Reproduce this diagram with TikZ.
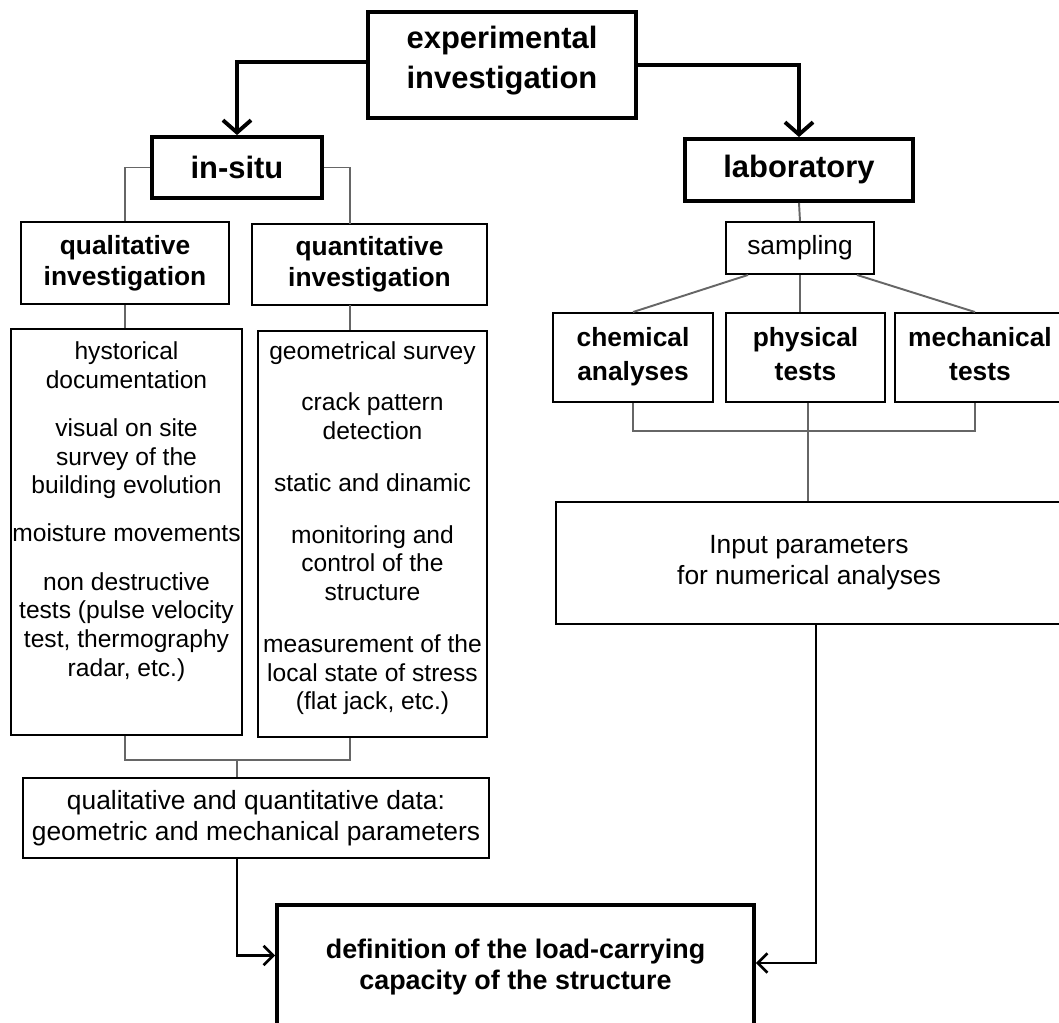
\documentclass[tikz,border=0pt]{standalone}
\usepackage{fontspec}
\setmainfont{Liberation Sans}
\usetikzlibrary{arrows.meta,positioning}

\begin{document}
\begin{tikzpicture}[x=0.02cm, y=-0.02cm,
  headbox/.style={draw, line width=2.2pt, align=center, inner sep=0pt,
    font=\bfseries\fontsize{17.6}{22.7}\selectfont},
  subbox/.style={draw, line width=1.1pt, align=center, inner sep=0pt,
    font=\bfseries\fontsize{15}{17.6}\selectfont},
  testbox/.style={subbox, text depth=4pt, font=\bfseries\fontsize{15}{19.8}\selectfont},
  plainbox/.style={draw, line width=1.1pt, align=center, inner sep=0pt,
    font=\fontsize{15}{17.6}\selectfont},
  listbox/.style={draw, line width=1.1pt, inner sep=0pt},
  listtext/.style={align=center, inner sep=0pt, font=\fontsize{14}{16.4}\selectfont},
  link/.style={line width=1.1pt, black!60},
  bigarrow/.style={line width=2.2pt, -{Straight Barb[length=7pt, width=16pt]}},
  smallarrow/.style={line width=1.5pt, -{Straight Barb[length=5.5pt, width=11pt]}}
]
  \useasboundingbox (0,0) rectangle (1059,1023);
  \clip (0,0) rectangle (1059,1023);

  % top level
  \node[headbox, minimum width=5.36cm, minimum height=2.12cm, text depth=9pt] (exp) at (502,65) {experimental\\investigation};
  \node[headbox, minimum width=3.4cm, minimum height=1.22cm] (insitu) at (237,167.5) {in-situ};
  \node[headbox, minimum width=4.56cm, minimum height=1.24cm] (lab) at (799,170) {laboratory};

  \draw[bigarrow] ([yshift=0.06cm]exp.west) -| (insitu.north);
  \draw[bigarrow] (exp.east) -| (lab.north);

  % in-situ branch
  \node[subbox, minimum width=4.16cm, minimum height=1.64cm] (qual) at (125,263) {qualitative\\investigation};
  \node[subbox, minimum width=4.7cm, minimum height=1.62cm] (quant) at (369.5,264.5) {quantitative\\investigation};
  \node[listbox, minimum width=4.62cm, minimum height=8.12cm] (qualbox) at (126.5,532) {};
  \node[listbox, minimum width=4.58cm, minimum height=8.12cm] (quantbox) at (372.5,534) {};

  \node[listtext, below=0.26cm of qualbox.north] (qualtext) {hystorical\\documentation\\[11pt]visual on site\\survey of the\\building evolution\\[11pt]moisture movements\\[11pt]non destructive\\tests (pulse velocity\\test, thermography\\radar, etc.)};
  \node[listtext, below=0.22cm of quantbox.north] (quanttext) {geometrical survey\\[13pt]crack pattern\\detection\\[13pt]static and dinamic\\[13pt]monitoring and\\control of the\\structure\\[13pt]measurement of the\\local state of stress\\(flat jack, etc.)};

  \coordinate (qtop) at (350,224);
  \coordinate (qbot) at (350,305);
  \coordinate (join) at (237,760);
  \draw[link] (insitu.west) -| (qual.north);
  \draw[link] (insitu.east) -| (qtop);
  \draw[link] (qual.south) -- (qual.south |- qualbox.north);
  \draw[link] (qbot) -- (qbot |- quantbox.north);
  \draw[link] (qual.south |- qualbox.south) |- (qbot |- join) -- (qbot |- quantbox.south);

  \node[plainbox, minimum width=9.32cm, minimum height=1.6cm] (data) at (256,818) {qualitative and quantitative data:\\geometric and mechanical parameters};
  \draw[link] (join) -- (join |- data.north);

  % final box
  \node[headbox, font=\bfseries\fontsize{15.3}{17.6}\selectfont, minimum width=9.54cm, minimum height=2.5cm] (load) at (515.5,967.5) {definition of the load-carrying\\capacity of the structure};
  \draw[smallarrow, black] (join |- data.south) |- ([yshift=0.24cm]load.west);

  % laboratory branch
  \node[plainbox, minimum width=2.96cm, minimum height=1.04cm] (sampling) at (800,248) {sampling};
  \node[testbox, minimum width=3.2cm, minimum height=1.78cm] (chem) at (633,357.5) {chemical\\analyses};
  \node[testbox, minimum width=3.18cm, minimum height=1.78cm] (phys) at (805.5,357.5) {physical\\tests};
  \node[testbox, minimum width=3.4cm, minimum height=1.78cm] (mech) at (980,357.5) {mechanical\\tests};

  \draw[link] (lab.south) -- (sampling.north);
  \draw[link] ([xshift=-1.04cm]sampling.south) -- (chem.north);
  \draw[link] (sampling.south) -- (sampling.south |- phys.north);
  \draw[link] ([xshift=1.14cm]sampling.south) -- ([xshift=-0.1cm]mech.north);

  \node[plainbox, minimum width=10.12cm, minimum height=2.44cm] (input) at (809,563) {Input parameters\\for numerical analyses};

  \coordinate (labjoin) at (808,431);
  \draw[link] (chem.south) |- (labjoin) -| ([xshift=-0.1cm]mech.south);
  \draw[link] (phys.south -| labjoin) -- (labjoin |- input.north);
  \draw[smallarrow, black] ([xshift=0.14cm]input.south) |- ([yshift=0.09cm]load.east);

\end{tikzpicture}
\end{document}
